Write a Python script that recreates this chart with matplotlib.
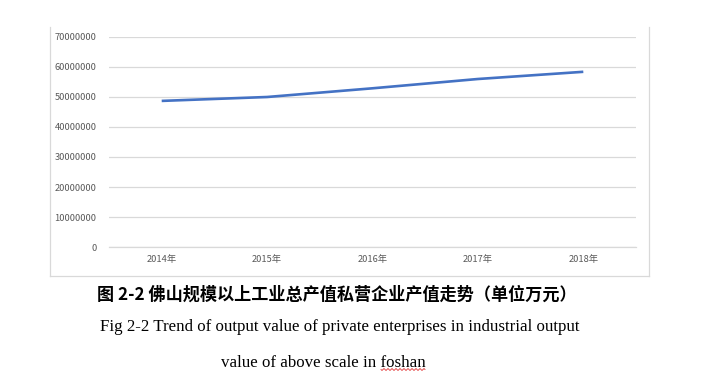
import matplotlib
matplotlib.use("Agg")
import numpy as np
import matplotlib.pyplot as plt
from matplotlib.lines import Line2D
from matplotlib.ticker import MultipleLocator, FuncFormatter

plt.rcParams['font.family'] = ['Noto Sans CJK SC', 'DejaVu Sans']

years = ['2014年', '2015年', '2016年', '2017年', '2018年']
output_value = [48700000, 50000000, 52900000, 56000000, 58400000]  # 万元

W, H = 704, 378
fig = plt.figure(figsize=(W / 100, H / 100), dpi=100)

def fx(px):
    return px / W

def fy(py):
    return 1 - py / H

ax = fig.add_axes([fx(109), fy(247), fx(636) - fx(109), fy(37) - fy(247)])
x = list(range(len(years)))
ax.plot(x, output_value, color='#4472C4', lw=1.9, solid_capstyle='butt')

ax.set_xlim(-0.5, len(years) - 0.5)
ax.set_ylim(0, 70000000)
ax.yaxis.set_major_locator(MultipleLocator(10000000))
ax.yaxis.set_major_formatter(FuncFormatter(lambda v, p: f"{int(v)}"))
ax.set_xticks(x)
ax.set_xticklabels(years)
ax.grid(axis='y', color='#d9d9d9', lw=0.9)
ax.set_axisbelow(True)
for s in ['top', 'right', 'left']:
    ax.spines[s].set_visible(False)
ax.spines['bottom'].set_color('#d9d9d9')
ax.spines['bottom'].set_linewidth(0.9)
ax.tick_params(axis='both', length=0, labelsize=6.7, labelcolor='#595959')
ax.tick_params(axis='y', pad=9)
ax.tick_params(axis='x', pad=6)

# chart frame
frame = '#d9d9d9'
fig.add_artist(Line2D([fx(50), fx(50)], [fy(27), fy(276)], color=frame, lw=0.9))
fig.add_artist(Line2D([fx(50), fx(649)], [fy(276), fy(276)], color=frame, lw=0.9))
fig.add_artist(Line2D([fx(649), fx(649)], [fy(27), fy(276)], color=frame, lw=0.9))

# captions
fig.text(fx(337), fy(295), '图 2-2 佛山规模以上工业总产值私营企业产值走势（单位万元）',
         ha='center', va='center', fontsize=12.3, fontweight='bold',
         family=['Noto Sans CJK SC', 'DejaVu Sans'], color='#000000')
fig.text(fx(340), fy(327), 'Fig 2-2 Trend of output value of private enterprises in industrial output',
         ha='center', va='center', fontsize=12.2, family=['Liberation Serif'], color='#000000')
fig.text(fx(323), fy(363), 'value of above scale in foshan',
         ha='center', va='center', fontsize=12.2, family=['Liberation Serif'], color='#000000')

# wavy underline beneath "foshan"
wx = np.linspace(381, 425, 60)
wy = 369.5 + 0.9 * np.sin((wx - 381) / 44 * 2 * np.pi * 11)
fig.add_artist(Line2D(fx(wx), fy(wy), color='#e03030', lw=0.6))

fig.savefig('out.png', dpi=100)
